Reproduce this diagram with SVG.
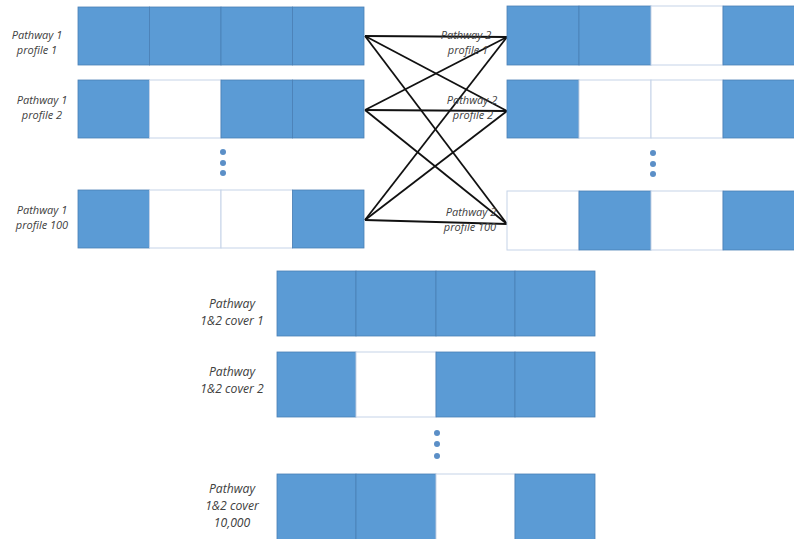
<svg xmlns="http://www.w3.org/2000/svg" width="794" height="539" viewBox="0 0 794 539">
<style>
.b{fill:#5B9BD5;stroke:#4A7FB5;stroke-width:0.8}
.w{fill:#FFFFFF;stroke:#C5D3E8;stroke-width:1}
.d{fill:#5B8FC7}
.t{font-family:"Open Sans","Liberation Sans",sans-serif;font-style:italic;fill:#404040;text-anchor:middle}
.s{font-size:11px}
.m{font-size:12.2px}
.c{stroke:#111;stroke-width:1.8;fill:none}
</style>
<rect width="794" height="539" fill="#fff"/>
<g id="connectors">
<line class="c" x1="365" y1="36" x2="507" y2="37"/>
<line class="c" x1="365" y1="36" x2="507" y2="111"/>
<line class="c" x1="365" y1="36" x2="507" y2="224"/>
<line class="c" x1="365" y1="110" x2="507" y2="37"/>
<line class="c" x1="365" y1="110" x2="507" y2="111"/>
<line class="c" x1="365" y1="110" x2="507" y2="224"/>
<line class="c" x1="365" y1="220" x2="507" y2="37"/>
<line class="c" x1="365" y1="220" x2="507" y2="111"/>
<line class="c" x1="365" y1="220" x2="507" y2="224"/>
</g>
<g id="p1r1">
<rect class="b" x="78" y="7" width="71.5" height="58"/><rect class="b" x="149.5" y="7" width="71.5" height="58"/><rect class="b" x="221" y="7" width="71.5" height="58"/><rect class="b" x="292.5" y="7" width="71.5" height="58"/>
<text class="t s" x="37" y="39">Pathway 1</text><text class="t s" x="37" y="54">profile 1</text>
</g>
<g id="p1r2">
<rect class="b" x="78" y="80" width="71.5" height="58"/><rect class="w" x="149.5" y="80" width="71.5" height="58"/><rect class="b" x="221" y="80" width="71.5" height="58"/><rect class="b" x="292.5" y="80" width="71.5" height="58"/>
<text class="t s" x="42" y="104">Pathway 1</text><text class="t s" x="42" y="119">profile 2</text>
</g>
<g id="p1dots"><circle class="d" cx="223" cy="152" r="3"/><circle class="d" cx="223" cy="163" r="3"/><circle class="d" cx="223" cy="173" r="3"/></g>
<g id="p1r3">
<rect class="b" x="78" y="190" width="71.5" height="58"/><rect class="w" x="149.5" y="190" width="71.5" height="58"/><rect class="w" x="221" y="190" width="71.5" height="58"/><rect class="b" x="292.5" y="190" width="71.5" height="58"/>
<text class="t s" x="42" y="214">Pathway 1</text><text class="t s" x="42" y="229">profile 100</text>
</g>
<g id="p2r1">
<rect class="b" x="507" y="6" width="72" height="59"/><rect class="b" x="579" y="6" width="72" height="59"/><rect class="w" x="651" y="6" width="72" height="59"/><rect class="b" x="723" y="6" width="72" height="59"/>
<text class="t s" x="466" y="39">Pathway 2</text><text class="t s" x="468" y="54">profile 1</text>
</g>
<g id="p2r2">
<rect class="b" x="507" y="80" width="72" height="58"/><rect class="w" x="579" y="80" width="72" height="58"/><rect class="w" x="651" y="80" width="72" height="58"/><rect class="b" x="723" y="80" width="72" height="58"/>
<text class="t s" x="472" y="104">Pathway 2</text><text class="t s" x="473" y="119">profile 2</text>
</g>
<g id="p2dots"><circle class="d" cx="653" cy="153" r="3"/><circle class="d" cx="653" cy="164" r="3"/><circle class="d" cx="653" cy="174" r="3"/></g>
<g id="p2r3">
<rect class="w" x="507" y="191" width="72" height="59"/><rect class="b" x="579" y="191" width="72" height="59"/><rect class="w" x="651" y="191" width="72" height="59"/><rect class="b" x="723" y="191" width="72" height="59"/>
<text class="t s" x="471" y="216">Pathway 2</text><text class="t s" x="470" y="231">profile 100</text>
</g>
<g id="c1">
<rect class="b" x="277" y="271" width="79" height="65"/><rect class="b" x="356" y="271" width="80" height="65"/><rect class="b" x="436" y="271" width="79" height="65"/><rect class="b" x="515" y="271" width="80" height="65"/>
<text class="t m" x="232" y="308">Pathway</text><text class="t m" x="232" y="325">1&amp;2 cover 1</text>
</g>
<g id="c2">
<rect class="b" x="277" y="352" width="79" height="65"/><rect class="w" x="356" y="352" width="80" height="65"/><rect class="b" x="436" y="352" width="79" height="65"/><rect class="b" x="515" y="352" width="80" height="65"/>
<text class="t m" x="232" y="376">Pathway</text><text class="t m" x="232" y="393">1&amp;2 cover 2</text>
</g>
<g id="cdots"><circle class="d" cx="437" cy="433" r="3"/><circle class="d" cx="437" cy="444" r="3"/><circle class="d" cx="437" cy="456" r="3"/></g>
<g id="c3">
<rect class="b" x="277" y="474" width="79" height="70"/><rect class="b" x="356" y="474" width="80" height="70"/><rect class="w" x="436" y="474" width="79" height="70"/><rect class="b" x="515" y="474" width="80" height="70"/>
<text class="t m" x="232" y="493">Pathway</text><text class="t m" x="232" y="510">1&amp;2 cover</text><text class="t m" x="232" y="527">10,000</text>
</g>
</svg>
